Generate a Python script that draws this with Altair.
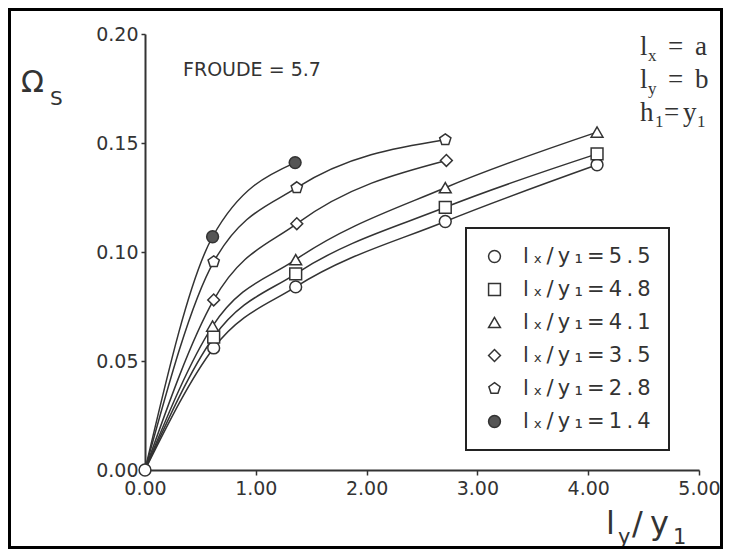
import altair as alt
import pandas as pd

# ---------------- data ----------------
labels = ["lₓ/y₁=5.5", "lₓ/y₁=4.8", "lₓ/y₁=4.1", "lₓ/y₁=3.5", "lₓ/y₁=2.8", "lₓ/y₁=1.4"]

x_55 = [0.0, 0.62, 1.36, 2.71, 4.08]
y_55 = [0.0, 0.056, 0.084, 0.114, 0.140]
x_48 = [0.0, 0.62, 1.36, 2.71, 4.08]
y_48 = [0.0, 0.061, 0.090, 0.1205, 0.145]
x_41 = [0.0, 0.61, 1.36, 2.71, 4.08]
y_41 = [0.0, 0.066, 0.0965, 0.1295, 0.155]
x_35 = [0.0, 0.62, 1.37, 2.72]
y_35 = [0.0, 0.078, 0.113, 0.142]
x_28 = [0.0, 0.62, 1.37, 2.71]
y_28 = [0.0, 0.0955, 0.1295, 0.1515]
x_14 = [0.0, 0.61, 1.355]
y_14 = [0.0, 0.107, 0.141]

x_ticks = [0, 1, 2, 3, 4, 5]
y_ticks = [0.0, 0.05, 0.10, 0.15, 0.20]

series = [(labels[0], x_55, y_55), (labels[1], x_48, y_48), (labels[2], x_41, y_41),
          (labels[3], x_35, y_35), (labels[4], x_28, y_28), (labels[5], x_14, y_14)]
rows = []
for name, xs_, ys_ in series:
    for i, (a, b) in enumerate(zip(xs_, ys_)):
        rows.append({"s": name, "x": a, "y": b, "i": i})
df = pd.DataFrame(rows)

pentagon = "M0,-1L0.951,-0.309L0.588,0.809L-0.588,0.809L-0.951,-0.309Z"
shapes = ["circle", "square", "triangle-up", "diamond", pentagon, "circle"]
fills = ["white", "white", "white", "white", "white", "#555555"]

INK = "#333333"
SANS = "DejaVu Sans"
SERIF = "Liberation Serif"

W, H = 554, 436

xs = alt.X("x:Q", scale=alt.Scale(domain=[0, 5], nice=False, zero=False),
           axis=alt.Axis(values=x_ticks, format=".2f", title=None, labelFlush=False,
                         tickSize=5, labelPadding=4))
ys = alt.Y("y:Q", scale=alt.Scale(domain=[0, 0.2], nice=False),
           axis=alt.Axis(values=y_ticks, format=".2f", title=None, labelFlush=False,
                         tickSize=4, labelPadding=3))

lines = alt.Chart(df).mark_line(interpolate="monotone", color=INK, strokeWidth=1.5).encode(
    x=xs, y=ys, detail="s:N", order="i:Q")

leg = alt.Legend(title=None, orient="none", legendX=321, legendY=194,
                 labelExpr="join(split(datum.label, ''), '\u2009')")
points = alt.Chart(df).transform_filter(
    (alt.datum.x > 0) | (alt.datum.s == labels[0])
).mark_point(filled=True, size=140, strokeWidth=1.5, opacity=1).encode(
    x=xs, y=ys,
    shape=alt.Shape("s:N", scale=alt.Scale(domain=labels, range=shapes), legend=leg, sort=labels),
    fill=alt.Fill("s:N", scale=alt.Scale(domain=labels, range=fills), legend=leg, sort=labels),
    stroke=alt.Stroke("s:N", scale=alt.Scale(domain=labels, range=[INK] * 6), legend=leg, sort=labels),
)


def txt(s, x, y, size, font=SANS, color=INK):
    return alt.Chart(pd.DataFrame({"t": [s]})).mark_text(
        align="left", baseline="alphabetic", fontSize=size, font=font, color=color
    ).encode(text="t:N", x=alt.value(x), y=alt.value(y))


notes = [
    txt("FROUDE  =  5.7", 38, 42, 19),
    txt("Ω", -124, 58, 30),
    txt("S", -95, 71, 20),
    # x axis title l_y / y_1
    txt("l", 461, 500, 32),
    txt("y", 473, 510, 21),
    txt("/", 487, 500, 32),
    txt("y", 505, 500, 32),
    txt("1", 528, 510, 21),
    # top-right serif notes
    txt("l", 495, 21, 27, SERIF),
    txt("x", 503, 27, 17, SERIF),
    txt("=", 523, 21, 27, SERIF),
    txt("a", 550, 21, 27, SERIF),
    txt("l", 495, 54, 27, SERIF),
    txt("y", 503, 60, 17, SERIF),
    txt("=", 523, 54, 27, SERIF),
    txt("b", 550, 54, 27, SERIF),
    txt("h", 495, 87, 27, SERIF),
    txt("1", 510, 93, 17, SERIF),
    txt("=", 519, 87, 27, SERIF),
    txt("y", 538, 87, 27, SERIF),
    txt("1", 552, 93, 17, SERIF),
]

frame = alt.Chart(pd.DataFrame({"k": [0]})).mark_rect(
    fillOpacity=0, stroke="black", strokeWidth=3
).encode(x=alt.value(-135.5), x2=alt.value(576.5), y=alt.value(-24.5), y2=alt.value(513.5))

chart = alt.layer(lines, points, *notes, frame).properties(
    width=W, height=H,
    padding={"left": 137, "top": 26, "right": 24, "bottom": 79},
    autosize=alt.AutoSizeParams(type="none"),
    background="white",
).configure_view(strokeWidth=0).configure_axis(
    grid=False, domainColor=INK, domainWidth=2, tickColor=INK, tickWidth=1.5,
    labelFont=SANS, labelFontSize=19, labelColor=INK,
).configure_legend(
    strokeColor="#222222", strokeWidth=2, fillColor="white", padding=18,
    rowPadding=11, labelFont=SANS, labelFontSize=21, labelColor=INK,
    labelOffset=18, symbolSize=140, symbolStrokeWidth=1.5,
    labelLimit=300,
)

chart.save("out.html", embed_options={"renderer": "svg", "actions": False})
